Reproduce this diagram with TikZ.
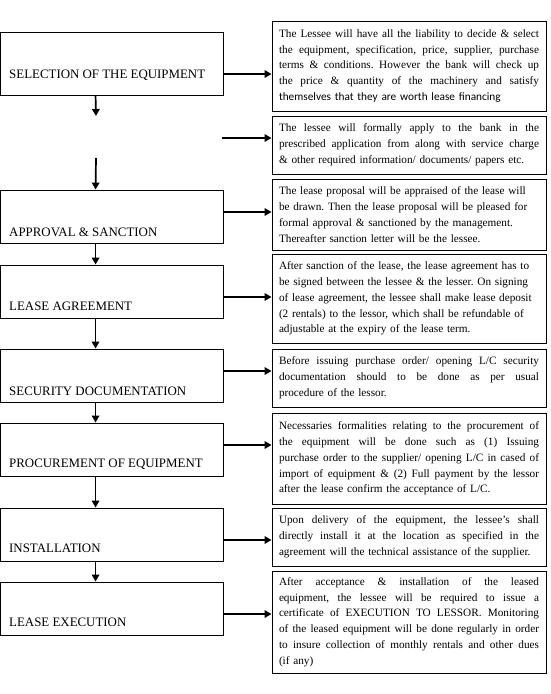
\documentclass[tikz,border=0pt]{standalone}
\usepackage{fontspec}
\setmainfont{Liberation Serif}
\newfontfamily\calib{Carlito}
\usetikzlibrary{arrows.meta}
\frenchspacing
\newcommand{\jl}[1]{\leavevmode{\spaceskip=0.25em plus 3em minus 0.06em\xspaceskip=\spaceskip\hbox to 260pt{#1}}}
\begin{document}
\begin{tikzpicture}[x=1pt,y=-1pt,
  lbox/.style={draw=black,line width=0.9pt,minimum width=222.5pt,inner sep=0pt},
  ltext/.style={anchor=base west,inner sep=0pt,font=\fontsize{12.9}{15}\selectfont},
  rbox/.style={draw=black,line width=0.9pt,minimum width=274pt,inner xsep=7pt,inner ysep=2pt,
    text width=260pt,align=left,font=\frenchspacing\fontsize{11.25}{15.8}\selectfont},
  arr/.style={line width=1.7pt,-{Triangle[length=7pt,width=7.5pt]}}]
\useasboundingbox (0,0) rectangle (550,694);
% left boxes
\node[lbox,minimum height=63pt] (b1) at (111.75,63.5) {};
\node[lbox,minimum height=53pt] (b2) at (111.75,216.5) {};
\node[lbox,minimum height=53pt] (b3) at (111.75,291.5) {};
\node[lbox,minimum height=53pt] (b4) at (111.75,375.5) {};
\node[lbox,minimum height=53pt] (b5) at (111.75,449.5) {};
\node[lbox,minimum height=53pt] (b6) at (111.75,534.5) {};
\node[lbox,minimum height=53pt] (b7) at (111.75,608.5) {};
\node[ltext] (t1) at (9,78.3) {SELECTION OF THE EQUIPMENT};
\node[ltext] (t2) at (9,236.7) {APPROVAL \& SANCTION};
\node[ltext] (t3) at (9,310.7) {LEASE AGREEMENT};
\node[ltext] (t4) at (9,395.7) {SECURITY DOCUMENTATION};
\node[ltext] (t5) at (9,467.7) {PROCUREMENT OF EQUIPMENT};
\node[ltext] (t6) at (9,552.7) {INSTALLATION};
\node[ltext] (t7) at (9,626.7) {LEASE EXECUTION};
% right boxes
\node[rbox,minimum height=90pt] (r1) at (409,66) {\jl{The Lessee will have all the liability to decide \& select}\\
\jl{the equipment, specification, price, supplier, purchase}\\
\jl{terms \& conditions. However the bank will check up}\\
\jl{the price \& quantity of the machinery and satisfy}\\
{\calib\fontsize{11.3}{15.8}\selectfont themselves that they are worth lease financing}};
\node[rbox,minimum height=58pt] (r2) at (409,145) {\jl{The lessee will formally apply to the bank in the}\\
\jl{prescribed application from along with service charge}\\
\& other required information/ documents/ papers etc.};
\node[rbox,minimum height=71pt] (r3) at (409,214.5) {\mbox{The lease proposal will be appraised of the lease will}\\
\mbox{be drawn. Then the lease proposal will be pleased for}\\
\mbox{formal approval \& sanctioned by the management.}\\
\mbox{Thereafter sanction letter will be the lessee.}};
\node[rbox,minimum height=89pt] (r4) at (409,298.5) {\mbox{After sanction of the lease, the lease agreement has to}\\
\mbox{be signed between the lessee \& the lesser. On signing}\\
\mbox{of lease agreement, the lessee shall make lease deposit}\\
\mbox{(2 rentals) to the lessor, which shall be refundable of}\\
\mbox{adjustable at the expiry of the lease term.}};
\node[rbox,minimum height=58pt] (r5) at (409,378) {\jl{Before issuing purchase order/ opening L/C security}\\
\jl{documentation should to be done as per usual}\\
procedure of the lessor.};
\node[rbox,minimum height=91pt] (r6) at (409,458.5) {\jl{Necessaries formalities relating to the procurement of}\\
\jl{the equipment will be done such as (1) Issuing}\\
\jl{purchase order to the supplier/ opening L/C in cased of}\\
\jl{import of equipment \& (2) Full payment by the lessor}\\
after the lease confirm the acceptance of L/C.};
\node[rbox,minimum height=58pt] (r7) at (409,537) {\jl{Upon delivery of the equipment, the lessee’s shall}\\
\jl{directly install it at the location as specified in the}\\
\mbox{agreement will the technical assistance of the supplier.}};
\node[rbox,minimum height=102pt] (r8) at (409,622) {\jl{After acceptance \& installation of the leased}\\
\jl{equipment, the lessee will be required to issue a}\\
\jl{certificate of EXECUTION TO LESSOR. Monitoring}\\
\jl{of the leased equipment will be done regularly in order}\\
\jl{to insure collection of monthly rentals and other dues}\\
(if any)};
% helper coordinates
\coordinate (v1e) at (96,116);
\coordinate (v2s) at (96,158);
\coordinate (a2s) at (222,138);
\coordinate (y1) at (0,74);
\coordinate (y3) at (0,212);
\coordinate (y4) at (0,297);
\coordinate (y5) at (0,371);
\coordinate (y6) at (0,445);
\coordinate (y7) at (0,540);
\coordinate (y8) at (0,614);
% vertical arrows
\draw[arr] ([xshift=95.5pt]b1.south west) -- (v1e);
\draw[arr] (v2s) -- ([xshift=95.5pt]b2.north west);
\draw[arr] ([xshift=95.5pt]b2.south west) -- ([xshift=95.5pt]b3.north west);
\draw[arr] ([xshift=95.5pt]b3.south west) -- ([xshift=95.5pt]b4.north west);
\draw[arr] ([xshift=95.5pt]b4.south west) -- ([xshift=95.5pt]b5.north west);
\draw[arr] ([xshift=95.5pt]b5.south west) -- ([xshift=95.5pt]b6.north west);
\draw[arr] ([xshift=95.5pt]b6.south west) -- ([xshift=95.5pt]b7.north west);
% horizontal arrows
\draw[arr] (b1.east |- y1) -- (r1.west |- y1);
\draw[arr] (a2s) -- (r2.west |- a2s);
\draw[arr] (b2.east |- y3) -- (r3.west |- y3);
\draw[arr] (b3.east |- y4) -- (r4.west |- y4);
\draw[arr] (b4.east |- y5) -- (r5.west |- y5);
\draw[arr] (b5.east |- y6) -- (r6.west |- y6);
\draw[arr] (b6.east |- y7) -- (r7.west |- y7);
\draw[arr] (b7.east |- y8) -- (r8.west |- y8);
\end{tikzpicture}
\end{document}
